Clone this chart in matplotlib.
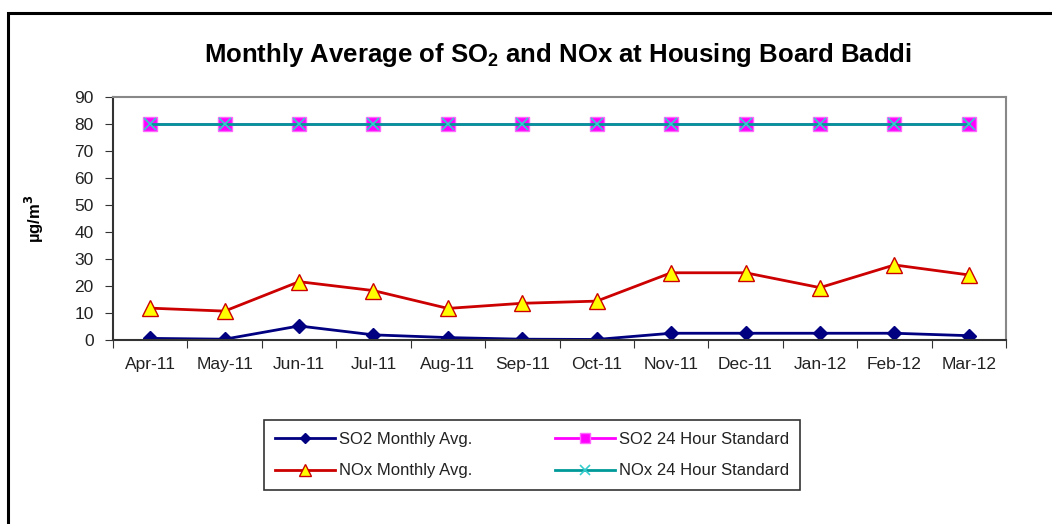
import matplotlib
matplotlib.use("Agg")
import matplotlib.pyplot as plt
from matplotlib.patches import Rectangle

plt.rcParams["font.family"] = ["Liberation Sans", "DejaVu Sans"]

months = ["Apr-11", "May-11", "Jun-11", "Jul-11", "Aug-11", "Sep-11",
          "Oct-11", "Nov-11", "Dec-11", "Jan-12", "Feb-12", "Mar-12"]
so2_avg = [0.6, 0.3, 5.2, 1.9, 0.9, 0.3, 0.2, 2.5, 2.5, 2.5, 2.5, 1.6]
nox_avg = [11.8, 10.7, 21.6, 18.3, 11.7, 13.6, 14.4, 24.9, 24.9, 19.4, 27.8, 24.1]
so2_std = [80] * 12
nox_std = [80] * 12

fig = plt.figure(figsize=(10.52, 5.24), dpi=100)
# outer chart frame (runs off the right and bottom edges)
fig.patches.append(Rectangle((8 / 1052, -0.05), 1.2, (524 - 13) / 524 + 0.05,
                             transform=fig.transFigure, fill=False,
                             edgecolor="black", linewidth=2.2))

ax = fig.add_axes([113 / 1052, 184 / 524, 893 / 1052, 243 / 524])
x = list(range(len(months)))

l1, = ax.plot(x, so2_avg, color="#000080", lw=2, marker="D", ms=7,
              mfc="#000080", mec="#000080", label="SO2 Monthly Avg.")
l2, = ax.plot(x, so2_std, color="#ff00ff", lw=2, marker="s", ms=10,
              mfc="#ff00ff", mec="#ff66ff", label="SO2 24 Hour Standard")
l3, = ax.plot(x, nox_avg, color="#cc0000", lw=2, marker="^", ms=11,
              mfc="#ffff00", mec="#cc0000", label="NOx Monthly Avg.")
l4, = ax.plot(x, nox_std, color="#009999", lw=2, marker="x", ms=9,
              mew=1.2, mec="#33cccc", label="NOx 24 Hour Standard")

ax.set_xlim(-0.5, len(months) - 0.5)
ax.set_ylim(0, 90)
ax.set_yticks(range(0, 91, 10))
ax.set_xticks([i - 0.5 for i in range(len(months) + 1)])
ax.set_xticklabels([])
ax.set_xticks(x, minor=True)
ax.set_xticklabels(months, minor=True)
ax.tick_params(axis="x", which="minor", length=0, pad=12, labelsize=12.5,
               labelcolor="#222222")
ax.tick_params(axis="x", which="major", length=6, direction="out", color="#333333")
ax.tick_params(axis="y", length=6, direction="out", labelsize=12.5,
               labelcolor="#222222", color="#333333", pad=8)

for side in ["top", "right"]:
    ax.spines[side].set_color("#888888")
    ax.spines[side].set_linewidth(1.5)
for side in ["left", "bottom"]:
    ax.spines[side].set_color("#333333")
    ax.spines[side].set_linewidth(1.5)

ax.set_ylabel("µg/m$^\\mathbf{3}$", fontsize=12, fontweight="bold", labelpad=20)

fig.text(558 / 1052, 1 - 55 / 524,
         "Monthly Average of SO$_\\mathregular{2}$ and NOx at Housing Board Baddi",
         ha="center", va="center", fontsize=18.5, fontweight="bold")

leg = fig.legend(handles=[l1, l3, l2, l4], ncol=2, loc="center",
                 bbox_to_anchor=(532 / 1052, 1 - 455 / 524), fontsize=12,
                 frameon=True, fancybox=False, edgecolor="black",
                 handlelength=3.6, columnspacing=5, labelspacing=1.0,
                 borderpad=0.7, handletextpad=0.2, markerscale=0.75)
leg.get_frame().set_linewidth(1.2)
for t in leg.get_texts():
    t.set_color("#222222")

fig.savefig("out.png", dpi=100)
